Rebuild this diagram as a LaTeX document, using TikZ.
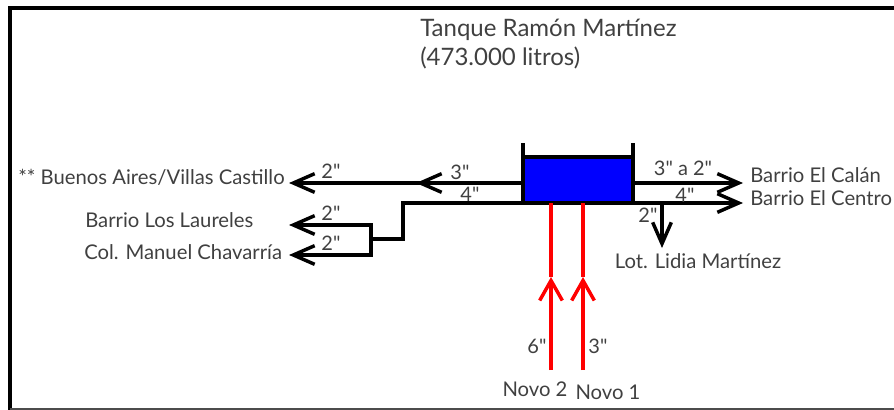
\documentclass[tikz,border=0pt]{standalone}
\usepackage{fontspec}
\setmainfont{Lato}
\newfontfamily\medidafont{Lato}
\usepackage{xcolor}
\definecolor{texto}{rgb}{0.25,0.25,0.25}
\usetikzlibrary{arrows.meta,positioning}
\tikzset{
  tubo/.style={draw=black,line width=2.6pt,->},
  tuboagua/.style={draw=red,line width=2.6pt,-{Straight Barb[length=15pt,width=17pt,line width=2.6pt]}},
  plano/.style={draw=black,line width=2.6pt},
  deposito/.style={rectangle,draw=black,fill=blue,line width=2.6pt,outer sep=0pt,minimum width=82.5pt,minimum height=34.5pt,inner sep=0pt},
  sitio/.style={text=texto,font=\fontsize{15.2}{17}\selectfont,inner sep=0pt},
  medida/.style={text=texto,font=\medidafont\fontsize{15}{17}\selectfont,inner sep=0pt},
  titulo/.style={text=texto,font=\fontsize{18}{21}\selectfont,inner sep=0pt,anchor=west},
  >={Straight Barb[length=16pt,width=14pt,line width=2.6pt]}
}
\begin{document}
\begin{tikzpicture}[x=0.75pt,y=-0.75pt]
    \useasboundingbox (0,0) rectangle (894,410);
    % marco
    \draw[black,line width=3pt] (10,410) -- (10,8) -- (894,8);
    \draw[black!70,line width=1.5pt] (10,408.5) -- (894,408.5);

    \node[titulo] (tit1) at (420,30) {Tanque Ramón Martínez};
    \node[titulo] (tit2) at (420,58) {(473.000 litros)};

    % tanque
    \node[deposito] (tanque) at (578,180) {};
    \draw[plano] (tanque.north west) -- ++(0,-14);
    \draw[plano] (tanque.north east) -- ++(0,-14);

    \node[sitio,anchor=east] (buenos) at (285,177) {** Buenos Aires/Villas Castillo};
    \node[sitio,anchor=west] (laureles) at (85,220) {Barrio Los Laureles};
    \node[sitio,anchor=west] (chavarria) at (84,252) {Col. Manuel Chavarría};
    \node[sitio,anchor=west] (calan) at (750,175) {Barrio El Calán};
    \node[sitio,anchor=west] (centro) at (750,198) {Barrio El Centro};
    \node[sitio] (lidia) at (698,261) {Lot. Lidia Martínez};
    \node[sitio] (novo2) at (535,389) {Novo 2};
    \node[sitio] (novo1) at (608,392) {Novo 1};

    \coordinate (s3) at (523,183);
    \coordinate (m3) at (416,183);
    \coordinate (e3) at (289,183);
    \coordinate (s4) at (523,203);
    \coordinate (c1) at (403,203);
    \coordinate (c2) at (403,239);
    \coordinate (c3) at (371,239);
    \coordinate (c4) at (371,225);
    \coordinate (c5) at (371,255);
    \coordinate (e4) at (289,225);
    \coordinate (e5) at (289,255);
    \coordinate (r3) at (633,183);
    \coordinate (r4) at (633,203);
    \coordinate (f3) at (743,183);
    \coordinate (f4) at (743,203);
    \coordinate (b1) at (662,203);
    \coordinate (b2) at (662,248);
    \coordinate (n2) at (551,370);
    \coordinate (n1) at (583,370);
    \coordinate (t2) at (551,203);
    \coordinate (t1) at (583,203);
    \coordinate (p2) at (551,277);
    \coordinate (p1) at (583,277);

    \begin{scope}[every path/.style=tubo]
      \path (s3) -- (e3);
      \path (s3) -- (m3);
      \path (c4) -- (e4);
      \path (c5) -- (e5);
      \path (r3) -- (f3);
      \path (r4) -- (f4);
      \path (b1) -- (b2);
    \end{scope}
    \draw[plano] (s4) -- (c1) -- (c2) -- (c3);
    \draw[plano,line cap=rect] (c4) -- (c5);

    \path[tuboagua] (n2) -- (p2);
    \path[tuboagua] (n1) -- (p1);
    \draw[red,line width=2.6pt] (p2) -- (t2);
    \draw[red,line width=2.6pt] (p1) -- (t1);

    \node[medida] (d1) at (331,171) {2"};
    \node[medida] (d2) at (460,172) {3"};
    \node[medida] (d3) at (470,194) {4"};
    \node[medida] (d4) at (331,213) {2"};
    \node[medida] (d5) at (331,243) {2"};
    \node[medida] (d6) at (683,168) {3" a 2"};
    \node[medida] (d7) at (685,195) {4"};
    \node[medida] (d8) at (648,215) {2"};
    \node[medida] (d9) at (537,346) {6"};
    \node[medida] (d10) at (598,346) {3"};
\end{tikzpicture}
\end{document}
